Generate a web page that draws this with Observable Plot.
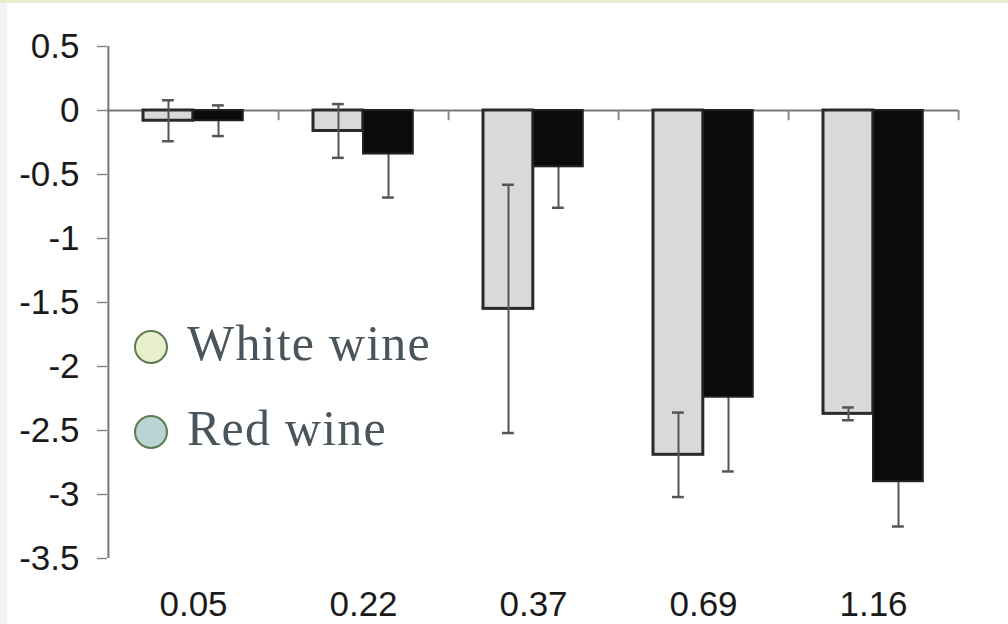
<!DOCTYPE html>
<html>
<head>
<meta charset="utf-8">
<script src="https://cdn.jsdelivr.net/npm/d3@7"></script>
<script src="https://cdn.jsdelivr.net/npm/@observablehq/plot@0.6"></script>
<style>
  html, body { margin: 0; padding: 0; background: #fff; }
  #wrap { position: relative; width: 1008px; height: 624px; overflow: hidden; }
  #stripL { position: absolute; left: 0; top: 0; width: 7px; height: 624px; background: #eef5f4; }
  #stripT { position: absolute; left: 0; top: 0; width: 1008px; height: 3px; background: #e8eecb; }
  .leg { position: absolute; left: 134px; display: flex; align-items: center;
         font-family: "Liberation Serif", "DejaVu Serif", serif; font-size: 50px;
         letter-spacing: 1.2px; color: #4a555b; }
  .leg .dot { width: 30px; height: 30px; border-radius: 50%; border: 2.5px solid #5e7a52;
              margin-right: 19px; box-sizing: content-box; position: relative; top: 4px; }
</style>
</head>
<body>
<div id="wrap">
  <div id="chart"></div>
  <div id="stripL"></div>
  <div id="stripT"></div>
  <div class="leg" id="legW" style="top:314px"><span class="dot" style="background:#e9efca"></span><span>White wine</span></div>
  <div class="leg" id="legR" style="top:399px"><span class="dot" style="background:#b8d4d3"></span><span>Red wine</span></div>
</div>
<script>
const doses = ["0.05", "0.22", "0.37", "0.69", "1.16"];
const whiteMean = [-0.08, -0.16, -1.55, -2.69, -2.37];
const whiteErr  = [0.16, 0.21, 0.97, 0.33, 0.05];
const redMean   = [-0.08, -0.34, -0.44, -2.24, -2.90];
const redErr    = [0.12, 0.34, 0.32, 0.58, 0.35];
const yTicks = [0.5, 0, -0.5, -1, -1.5, -2, -2.5, -3, -3.5];

const white = doses.map((d, i) => ({dose: d, v: whiteMean[i], lo: whiteMean[i] - whiteErr[i], hi: whiteMean[i] + whiteErr[i]}));
const red = doses.map((d, i) => ({dose: d, v: redMean[i], lo: redMean[i] - redErr[i], hi: redMean[i] + redErr[i]}));

const W = 1008, H = 624, mL = 107, mR = 50;
const half = (W - mL - mR) / doses.length / 2;
const errColor = "#555";

const chart = Plot.plot({
  width: W,
  height: H,
  marginLeft: mL,
  marginRight: mR,
  marginTop: 46,
  marginBottom: 66,
  style: {fontFamily: "'Liberation Sans', Arial, sans-serif", fontSize: "35px", color: "#1a1a1a", background: "transparent"},
  x: {type: "band", domain: doses, paddingInner: 0, paddingOuter: 0},
  y: {domain: [-3.5, 0.5]},
  marks: [
    // y axis line
    Plot.ruleX([doses[0]], {x: d => d, y1: -3.5, y2: 0.5, dx: -half, stroke: "#777", strokeWidth: 2}),
    Plot.axisY({ticks: yTicks, tickFormat: d => String(d), tickSize: 10, tickPadding: 18, stroke: "#888", strokeWidth: 1.5, label: null}),
    Plot.axisX({tickSize: 0, tickPadding: 33, label: null}),
    // zero line
    Plot.ruleY([0], {stroke: "#777", strokeWidth: 2}),
    // group boundary ticks
    Plot.ruleX(doses, {x: d => d, y1: 0, y2: -0.08, dx: half, stroke: "#888", strokeWidth: 2}),
    // white bars
    Plot.barY(white, {x: "dose", y: "v", insetLeft: 35, insetRight: half * 2 - 85, fill: "#d9d9d9", stroke: "#2a2a2a", strokeWidth: 3}),
    // white error bars
    Plot.ruleX(white, {x: "dose", y1: "lo", y2: "hi", dx: -25, stroke: errColor, strokeWidth: 2}),
    Plot.tickY(white, {x: "dose", y: "lo", insetLeft: 54, insetRight: half * 2 - 66, stroke: errColor, strokeWidth: 2.5}),
    Plot.tickY(white, {x: "dose", y: "hi", insetLeft: 54, insetRight: half * 2 - 66, stroke: errColor, strokeWidth: 2.5}),
    // red error bars
    Plot.ruleX(red, {x: "dose", y1: "lo", y2: "hi", dx: 25, stroke: errColor, strokeWidth: 2}),
    Plot.tickY(red, {x: "dose", y: "lo", insetLeft: 104, insetRight: half * 2 - 116, stroke: errColor, strokeWidth: 2.5}),
    Plot.tickY(red, {x: "dose", y: "hi", insetLeft: 104, insetRight: half * 2 - 116, stroke: errColor, strokeWidth: 2.5}),
    // red (black) bars
    Plot.barY(red, {x: "dose", y: "v", insetLeft: 85, insetRight: half * 2 - 135, fill: "#0b0b0b", stroke: "#222", strokeWidth: 2})
  ]
});
document.getElementById("chart").appendChild(chart);
</script>
</body>
</html>
